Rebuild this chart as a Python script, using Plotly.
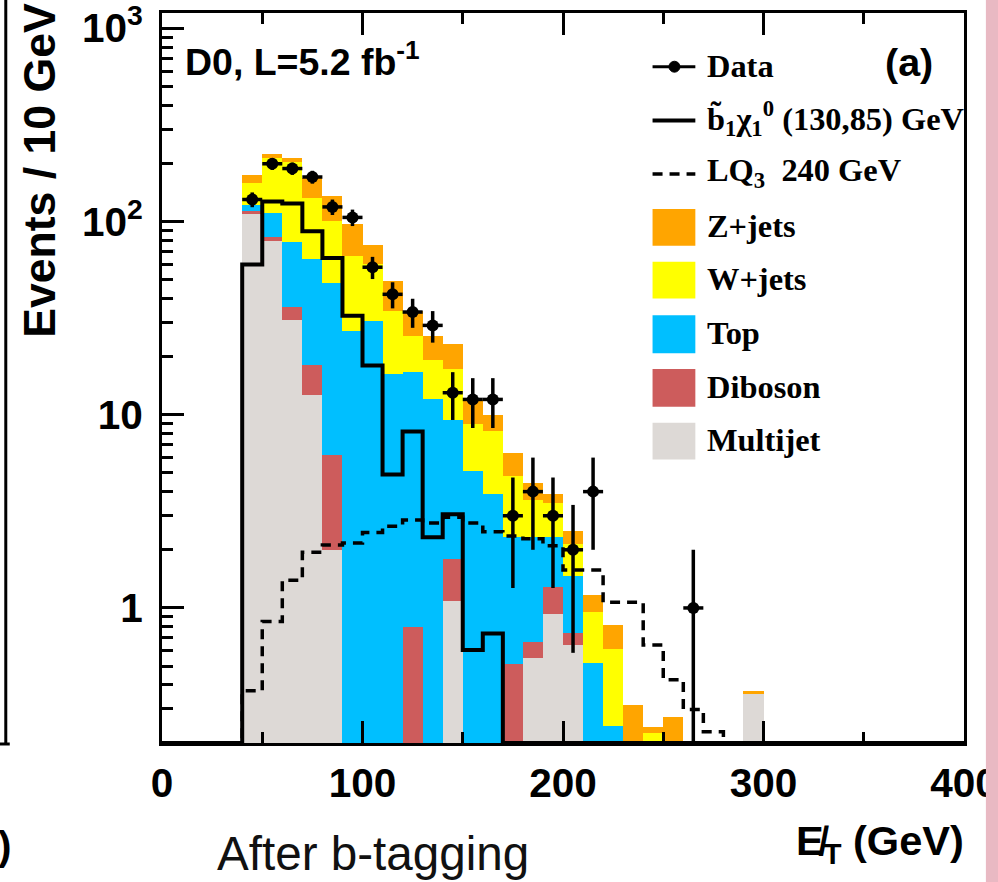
import numpy as np
import plotly.graph_objects as go

# ---------------- data (bins of 10 GeV, low edges) ----------------
bin_low = [40, 50, 60, 70, 80, 90, 100, 110, 120, 130, 140, 150, 160,
           170, 180, 190, 200, 210, 220, 230, 240, 250, 260, 270, 280, 290]

multijet = [110, 79, 31, 12.6, 2.0, 0, 0, 0, 0, 0, 1.09, 0, 0,
            0, 0.55, 0.935, 0.643, 0, 0, 0, 0, 0, 0, 0, 0, 0.36]
diboson = [3, 4, 5, 5.4, 4.2, 0, 0, 0, 0.80, 0, 0.70, 0, 0,
           0.51, 0.12, 0.345, 0.095, 0, 0, 0, 0, 0, 0, 0, 0, 0]
top = [9, 28, 42, 45.6, 41.8, 27, 30.6, 16.3, 15.8, 12.1, 7.6, 5.1, 3.87,
       1.82, 1.65, 1.04, 0.732, 0.517, 0.245, 0.05, 0.05, 0.05, 0, 0, 0, 0]
wjets = [37, 102, 125, 69.4, 53, 39, 29.4, 18.3, 9.1, 7.0, 7.9, 3.9, 4.33,
         2.47, 1.28, 1.18, 0.67, 0.436, 0.368, 0.05, 0.176, 0.07, 0, 0, 0, 0]
zjets = [15, 11, 10, 35, 35, 31, 16, 14.6, 8.9, 6.6, 6.0, 2.9, 1.76,
         1.53, 0.84, 0.37, 0.36, 0.207, 0.207, 0.216, 0.016, 0.152, 0, 0, 0, 0.01]

data_counts = [130, 199, 188, 170, 119, 105, 58, 42, 34, 29, 13, 12, 12,
               3, 4, 3, 2, 4, 0, 0, 0, 0, 1, 0, 0, 0]

sbottom_signal = [60, 127, 124, 89, 64.7, 32.5, 18, 4.9, 8.2, 2.32, 3.05, 0.605, 0.738,
                  0, 0, 0, 0, 0, 0, 0, 0, 0, 0, 0, 0, 0]
lq3_signal = [0.373, 0.85, 1.39, 1.94, 2.12, 2.17, 2.46, 2.65, 2.85, 2.75, 2.95, 2.75, 2.48,
              2.36, 2.28, 2.1, 1.57, 1.57, 1.07, 1.07, 0.643, 0.425, 0.298, 0.229, 0, 0]

x_tick_vals = [0, 100, 200, 300, 400]
y_tick_vals = [1, 10, 100, 1000]
y_tick_text = ["1", "10", "10<sup>2</sup>", "10<sup>3</sup>"]

# ---------------- helpers ----------------
Y_MIN, Y_MAX = 0.2, 1200.0
edges = np.arange(0, 410, 10)
centers = edges[:-1] + 5
first = bin_low[0] // 10


def full(arr):
    v = np.zeros(len(edges) - 1)
    v[first:first + len(arr)] = arr
    return v


mj, db, tp, wj, zj = map(full, (multijet, diboson, top, wjets, zjets))
cum_mj = mj
cum_db = cum_mj + db
cum_tp = cum_db + tp
cum_wj = cum_tp + wj
cum_zj = cum_wj + zj

# Target positions are given in picture pixels; the photographed page shows the
# figure slightly reduced and shifted, so convert picture -> figure pixels.
SX, SY, OX, OY = 0.987, 0.9875, 1.0, 10.0
FIG_W, FIG_H = 998, 882


def wx(x):
    return (x - OX) / SX


def wy(y):
    return (y - OY) / SY


def fs(s):
    return s / SX


# plot area in picture pixels
Lp, Rp, Tp, Bp = 161, 967, 10, 744
L, R, T, B = wx(Lp), wx(Rp), wy(Tp), wy(Bp)


def px(x):
    return (x - Lp) / (Rp - Lp)


def py(y):
    return (Bp - y) / (Bp - Tp)


fig = go.Figure()

stack = [
    (cum_zj, "#FFA500", "Z+jets"),
    (cum_wj, "#FFFF00", "W+jets"),
    (cum_tp, "#00BFFF", "Top"),
    (cum_db, "#CD5C5C", "Diboson"),
    (cum_mj, "#DDD9D6", "Multijet"),
]
for cum, col, name in stack:
    yv = [v if v > 0 else None for v in cum]
    fig.add_trace(go.Bar(x=centers, y=yv, width=10, marker=dict(color=col, line=dict(width=0)),
                         name=name, showlegend=False, hoverinfo="skip"))


def step_trace(vals, dash, width):
    v = full(vals)
    v = np.where(v > 0, v, Y_MIN)
    yy = list(v) + [v[-1]]
    return go.Scatter(x=edges, y=yy, mode="lines", line=dict(shape="hv", color="black", width=width, dash=dash),
                      showlegend=False, hoverinfo="skip")


fig.add_trace(step_trace(lq3_signal, "10px,7px", 3.5))
fig.add_trace(step_trace(sbottom_signal, "solid", 4))

dc = np.array(data_counts, dtype=float)
mask = dc > 0
xc = np.array(bin_low)[mask] + 5
yc = dc[mask]
err = np.sqrt(yc)
errm = np.minimum(err, yc * 0.999)
fig.add_trace(go.Scatter(
    x=xc, y=yc, mode="markers",
    marker=dict(color="black", size=12, symbol="circle"),
    error_y=dict(type="data", array=err, arrayminus=errm, color="black", thickness=3.5, width=0),
    error_x=dict(type="constant", value=5, color="black", thickness=3.5, width=0),
    showlegend=False))

tickfont = dict(family="Liberation Sans, Arial, sans-serif", size=fs(40), color="black", weight="bold")

fig.update_layout(
    width=FIG_W, height=FIG_H,
    margin=dict(l=L, r=FIG_W - R, t=T, b=FIG_H - B),
    paper_bgcolor="white", plot_bgcolor="white",
    barmode="overlay", bargap=0,
    showlegend=False,
    xaxis=dict(range=[0, 400], tickvals=x_tick_vals, ticks="inside", ticklen=22, tickwidth=2.5,
               tickcolor="black", showline=True, linewidth=3, linecolor="black", mirror="ticks",
               showgrid=False, zeroline=False, tickfont=tickfont, ticklabelstandoff=2,
               ticklabeloverflow="allow",
               minor=dict(tickvals=[50, 150, 250, 350], ticks="inside", ticklen=11, tickwidth=2.5,
                          tickcolor="black", showgrid=False)),
    yaxis=dict(type="log", range=[np.log10(Y_MIN), np.log10(Y_MAX)], tickvals=y_tick_vals,
               ticktext=y_tick_text, ticks="inside", ticklen=22, tickwidth=2.5, tickcolor="black",
               showline=True, linewidth=3, linecolor="black", mirror=True, showgrid=False,
               zeroline=False, tickfont=tickfont, ticklabelstandoff=8, ticklabeloverflow="allow",
               minor=dict(tickvals=[m * d for d in (0.1, 1, 10, 100) for m in range(2, 10) if 0.2 <= m * d <= 1200],
                          ticks="inside", ticklen=11, tickwidth=2.5, tickcolor="black", showgrid=False)),
)

shapes = []
annotations = []

# ---- legend ----
serif = dict(family="Liberation Serif, Times New Roman, serif", size=fs(32), color="black", weight="bold")
lx0, lx1, ltx = 654, 697, 707

shapes.append(dict(type="line", xref="paper", yref="paper", x0=px(lx0), x1=px(lx1), y0=py(64), y1=py(64),
                   line=dict(color="black", width=3)))
shapes.append(dict(type="circle", xref="paper", yref="paper", x0=px(670.5), x1=px(681.5), y0=py(58.5), y1=py(69.5),
                   fillcolor="black", line=dict(color="black", width=1)))
shapes.append(dict(type="line", xref="paper", yref="paper", x0=px(lx0), x1=px(lx1), y0=py(118), y1=py(118),
                   line=dict(color="black", width=4)))
shapes.append(dict(type="line", xref="paper", yref="paper", x0=px(lx0), x1=px(lx1), y0=py(172), y1=py(172),
                   line=dict(color="black", width=3.5, dash="10px,7px")))

leg_text = [
    (63, "Data"),
    (116, "b\u0303<sub>1</sub>\u03c7<sub>1</sub><sup>0</sup> (130,85) GeV"),
    (170, "LQ<sub>3</sub>\u00a0\u00a0240 GeV"),
]
box_rows = [(207, 244, "#FFA500", "Z+jets"), (260, 297, "#FFFF00", "W+jets"), (314, 352, "#00BFFF", "Top"),
            (368, 406, "#CD5C5C", "Diboson"), (422, 459, "#DDD9D6", "Multijet")]
for y0, y1, col, name in box_rows:
    shapes.append(dict(type="rect", xref="paper", yref="paper", x0=px(lx0), x1=px(lx1), y0=py(y1), y1=py(y0),
                       fillcolor=col, line=dict(width=0)))
    leg_text.append(((y0 + y1) / 2 - 1, name))

for yy, txt in leg_text:
    annotations.append(dict(text=txt, xref="paper", yref="paper", x=px(ltx), y=py(yy), xanchor="left",
                            yanchor="middle", showarrow=False, font=serif))

sansb = dict(family="Liberation Sans, Arial, sans-serif", color="black", weight="bold")
annotations.append(dict(text="(a)", xref="paper", yref="paper", x=px(912), y=py(59), xanchor="center",
                        yanchor="middle", showarrow=False, font=dict(sansb, size=fs(39))))
annotations.append(dict(text="D0, L=5.2 fb<sup>-1</sup>", xref="paper", yref="paper", x=px(182), y=py(56),
                        xanchor="left", yanchor="middle", showarrow=False, font=dict(sansb, size=fs(37))))
annotations.append(dict(text="Events / 10 GeV", xref="paper", yref="paper", x=px(38), y=py(168),
                        xanchor="center", yanchor="middle", textangle=-90, showarrow=False,
                        font=dict(sansb, size=fs(44))))
annotations.append(dict(text="E\u0338<sub>T</sub> (GeV)", xref="paper", yref="paper", x=px(969), y=py(845),
                        xanchor="right", yanchor="middle", showarrow=False, font=dict(sansb, size=fs(41))))
annotations.append(dict(text="After b-tagging", xref="paper", yref="paper", x=px(214), y=py(855),
                        xanchor="left", yanchor="middle", showarrow=False,
                        font=dict(family="Liberation Sans, Arial, sans-serif", size=fs(47), color="#111111")))
annotations.append(dict(text=")", xref="paper", yref="paper", x=px(12), y=py(848),
                        xanchor="right", yanchor="middle", showarrow=False, font=dict(sansb, size=fs(40))))

# ---- edge of the neighbouring panel and the scan strip on the right ----
shapes.append(dict(type="line", xref="paper", yref="paper", x0=px(4), x1=px(4), y0=py(745), y1=py(-20),
                   line=dict(color="black", width=3)))
shapes.append(dict(type="line", xref="paper", yref="paper", x0=px(-5), x1=px(8), y0=py(745), y1=py(745),
                   line=dict(color="black", width=3)))
shapes.append(dict(type="rect", xref="paper", yref="paper", x0=px(989), x1=px(1015), y0=py(900), y1=py(-20),
                   fillcolor="#E9B9C3", line=dict(width=0), layer="above"))

fig.update_layout(shapes=shapes, annotations=annotations)
fig.write_html("out.html", config={"displayModeBar": False},
               post_script="document.body.style.margin='0';document.body.style.overflow='hidden';")
